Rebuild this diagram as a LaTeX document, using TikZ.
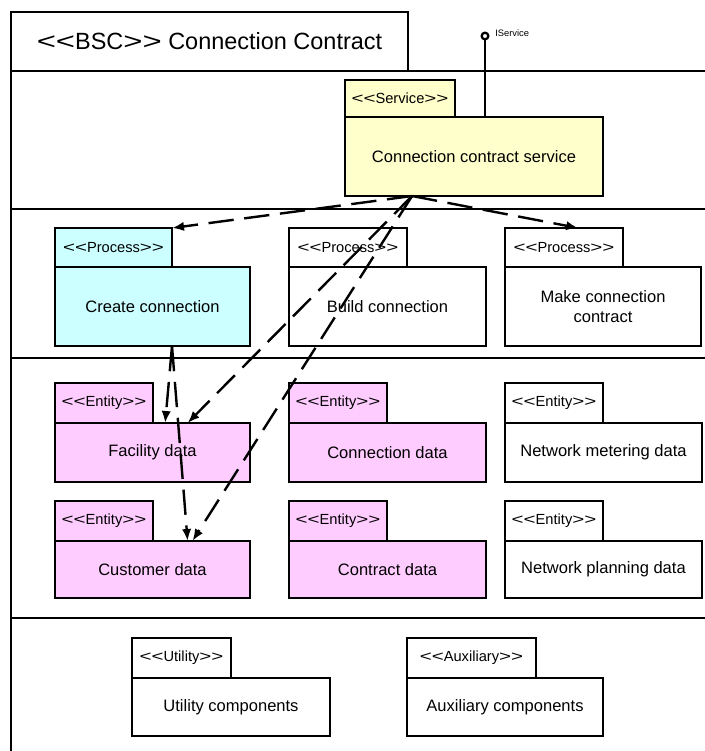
\documentclass[tikz,border=0pt]{standalone}
\usepackage{fontspec}
\setmainfont{Liberation Sans}
\usepackage{graphicx}
\usetikzlibrary{arrows.meta,calc}
\definecolor{svcfill}{HTML}{FFFFCC}
\definecolor{procfill}{HTML}{CCFFFF}
\definecolor{entfill}{HTML}{FFCCFF}
% wide chevrons for stereotypes
\newcommand\chl{\scalebox{1.4}[1]{<}}
\newcommand\chr{\scalebox{1.4}[1]{>}}
\newcommand\stereo[1]{\chl\chl#1\chr\chr}
\begin{document}
\begin{tikzpicture}[x=0.75pt,y=-0.75pt,
  frame/.style={line width=2.2pt},
  sz/.style 2 args={minimum width=#1*0.75pt,minimum height=#2*0.75pt},
  tabbox/.style={draw,line width=2.2pt,inner sep=0pt,outer sep=0pt,anchor=north west,
    font=\fontsize{11}{12}\selectfont},
  bodybox/.style={draw,line width=2.2pt,inner sep=0pt,outer sep=0pt,anchor=north west,
    align=center,font=\fontsize{12.4}{14.5}\selectfont},
  dep/.style={line width=1.8pt,dash pattern=on 19pt off 8pt,
    -{Latex[length=9pt,width=7pt]}}
]
\useasboundingbox (0,0) rectangle (705,751);

% component frame and compartments
\node[draw,frame,sz={397}{59},anchor=north west,inner sep=0pt,outer sep=0pt,
  font=\fontsize{17.6}{20}\selectfont] (title) at (11,12)
  {\stereo{BSC} Connection Contract};
\draw[frame] (title.north west) -- (11,751);
\draw[frame] (title.south west) -- (705,71);
\draw[frame] (11,209) -- (705,209);
\draw[frame] (11,358) -- (705,358);
\draw[frame] (11,618) -- (705,618);

% service
\node[tabbox,sz={110}{37},fill=svcfill] (svctab) at (345,80) {\stereo{Service}};
\node[bodybox,sz={258}{79},fill=svcfill] (svc) at (345,117) {Connection contract service};

% provided interface
\node[circle,draw,line width=1.7pt,minimum size=5pt,inner sep=0pt,outer sep=0pt] (lolli) at (485,36) {};
\draw[line width=2.2pt] (lolli.south) -- (lolli.south |- svc.north);
\node[anchor=base west,inner sep=0pt,font=\fontsize{7}{8}\selectfont] (iname) at (495,36) {IService};

% processes
\node[tabbox,sz={117}{39},fill=procfill] (ctab) at (55,228) {\stereo{Process}};
\node[bodybox,sz={195}{79},fill=procfill] (create) at (55,267) {Create connection};
\node[tabbox,sz={118}{39},fill=white] (btab) at (289,228) {\stereo{Process}};
\node[bodybox,sz={197}{79},fill=white] (build) at (289,267) {Build connection};
\node[tabbox,sz={118}{39},fill=white] (mtab) at (505,228) {\stereo{Process}};
\node[bodybox,sz={196}{79},fill=white] (make) at (505,267) {Make connection\\contract};

% entities
\node[tabbox,sz={98}{40},fill=entfill] (ftab) at (55,383) {\stereo{Entity}};
\node[bodybox,sz={195}{59},fill=entfill] (fac) at (55,423) {Facility data};
\node[tabbox,sz={98}{40},fill=entfill] (cntab) at (289,383) {\stereo{Entity}};
\node[bodybox,sz={197}{59},fill=entfill] (conn) at (289,423) {Connection data};
\node[tabbox,sz={98}{40},fill=white] (nmtab) at (505,383) {\stereo{Entity}};
\node[bodybox,sz={197}{59},fill=white] (meter) at (505,423) {Network metering data};

\node[tabbox,sz={98}{40},fill=entfill] (cutab) at (55,501) {\stereo{Entity}};
\node[bodybox,sz={195}{57},fill=entfill] (cust) at (55,541) {Customer data};
\node[tabbox,sz={98}{40},fill=entfill] (cttab) at (289,501) {\stereo{Entity}};
\node[bodybox,sz={197}{57},fill=entfill] (contr) at (289,541) {Contract data};
\node[tabbox,sz={98}{40},fill=white] (nptab) at (505,501) {\stereo{Entity}};
\node[bodybox,sz={197}{57},fill=white] (plan) at (505,541) {Network planning data};

% utility and auxiliary
\node[tabbox,sz={99}{40},fill=white] (utab) at (132,638) {\stereo{Utility}};
\node[bodybox,sz={198}{58},fill=white] (util) at (132,678) {Utility components};
\node[tabbox,sz={129}{40},fill=white] (atab) at (407,638) {\stereo{Auxiliary}};
\node[bodybox,sz={196}{58},fill=white] (aux) at (407,678) {Auxiliary components};

% dependencies
\coordinate (svcout) at ($(svc.south west)!0.26!(svc.south east)$);
\coordinate (crout) at ($(create.south west)!0.6!(create.south east)$);
\draw[dep] (svcout) -- (ctab.north east);
\draw[dep] (svcout) -- ($(mtab.north west)!0.62!(mtab.north east)$);
\draw[dep] (svcout) -- ($(fac.north west)!0.68!(fac.north east)$);
\draw[dep] (svcout) -- ($(cust.north west)!0.705!(cust.north east)$);
\draw[dep] (crout) -- ($(fac.north west)!0.565!(fac.north east)$);
\draw[dep] (crout) -- ($(cust.north west)!0.68!(cust.north east)$);
\end{tikzpicture}
\end{document}
